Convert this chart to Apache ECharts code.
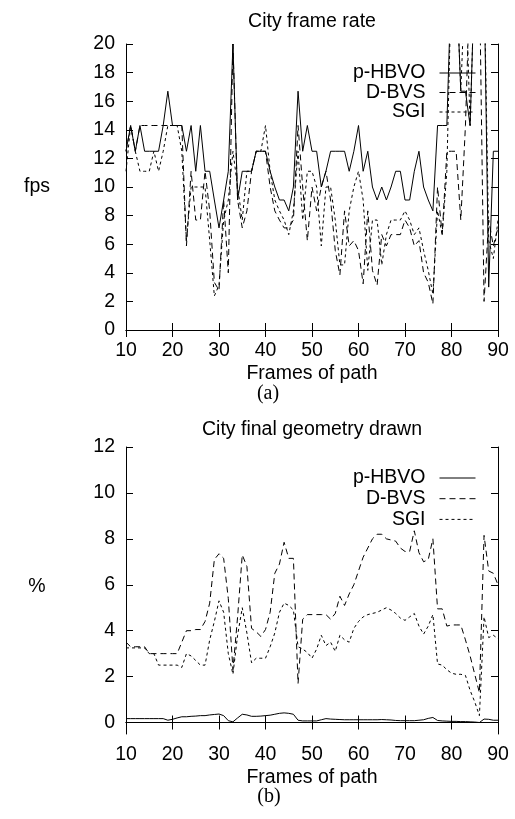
<!DOCTYPE html>
<html>
<head>
<meta charset="utf-8">
<script src="https://cdn.jsdelivr.net/npm/echarts@6/dist/echarts.min.js"></script>
<style>html,body{margin:0;padding:0;background:#fff}#c{width:515px;height:819px}</style>
</head>
<body>
<div id="c"></div>
<script>
var frames = [10,11,12,13,14,15,16,17,18,19,20,21,22,23,24,25,26,27,28,29,30,31,32,33,34,35,36,37,38,39,40,41,42,43,44,45,46,47,48,49,50,51,52,53,54,55,56,57,58,59,60,61,62,63,64,65,66,67,68,69,70,71,72,73,74,75,76,77,78,79,80,81,82,83,84,85,86,87,88,89,90];
var seriesNames = ['p-HBVO','D-BVS','SGI'];

// (a) frame rate, fps
var fpsHBVO = [12.5,14.3,12.5,14.3,12.5,12.5,12.5,12.5,14.3,16.7,14.3,14.3,14.3,12.5,14.3,11.1,14.3,11.1,11.1,9.09,7.14,9.09,11.1,20,9.09,11.1,11.1,11.1,12.5,12.5,12.5,11.1,10,9.09,9.09,8.33,10,16.7,12.5,14.3,12.5,12.5,10,11.1,12.5,12.5,12.5,12.5,11.1,12.5,14.3,11.1,12.5,10,9.09,10,9.09,10,11.1,11.1,9.09,9.09,11.1,12.5,10,9.09,8.33,14.3,14.3,14.3,25,25,16.7,16.7,14.3,25,25,25,3.0,12.5,12.5];
var fpsDBVS = [12.5,14.3,12.5,14.3,14.3,14.3,14.3,14.3,14.3,14.3,14.3,14.3,14.3,5.88,11.1,7.69,7.69,11.1,8.33,3.33,2.78,9.09,4.0,20,9.09,7.14,8.33,11.1,12.5,12.5,12.5,10,8.33,7.69,7.14,7.14,7.69,14.3,10,6.25,10,8.33,10,11.1,9.09,5.56,3.85,8.33,5.88,6.25,5.56,3.23,8.33,4.17,3.13,6.67,5.88,6.67,6.67,6.67,7.69,7.14,5.88,6.25,4.0,3.33,1.82,10,6.67,12.5,12.5,12.5,7.69,14.3,25,25,25,2.0,7.69,5.88,7.14];
var fpsSGI = [11.1,14.3,12.5,11.1,11.1,11.1,12.5,11.1,12.5,14.3,14.3,14.3,12.5,6.25,10,10,10,10,6.25,2.38,3.13,7.69,9.09,12.5,10,7.69,11.1,11.1,12.5,12.5,14.3,11.1,9.09,8.33,7.69,6.67,8.33,12.5,7.69,11.1,11.1,10,5.88,10,10,7.69,4.55,4.55,8.33,10,11.1,9.09,4.17,7.69,7.69,4.55,6.67,7.69,7.69,7.69,8.33,7.69,6.67,7.14,5.56,4.17,2.5,8.33,6.67,11.1,25,25,16.7,25,14.3,25,25,25,6.25,5.0,7.69];

// (b) final geometry drawn, %
var pctHBVO = [0.17,0.17,0.17,0.17,0.17,0.17,0.17,0.17,0.17,0.1,0.14,0.2,0.25,0.25,0.27,0.28,0.3,0.3,0.33,0.35,0.37,0.3,0.08,0.03,0.2,0.36,0.33,0.27,0.27,0.28,0.3,0.32,0.36,0.4,0.42,0.4,0.36,0.1,0.07,0.07,0.07,0.07,0.12,0.17,0.15,0.14,0.13,0.12,0.12,0.12,0.12,0.12,0.12,0.12,0.12,0.13,0.12,0.11,0.09,0.08,0.08,0.08,0.08,0.1,0.12,0.18,0.22,0.09,0.07,0.06,0.05,0.05,0.04,0.04,0.03,0.02,0.0,0.15,0.14,0.1,0.1];
var pctDBVS = [3.5,3.3,3.3,3.3,3.3,3.0,3.0,3.0,3.0,3.0,3.0,3.0,3.5,4.0,4.0,4.05,4.05,4.4,5.2,7.1,7.35,7.15,5.4,2.3,4.6,7.3,6.8,4.1,3.95,3.75,4.05,4.8,6.5,6.9,7.85,7.15,7.15,1.7,4.5,4.7,4.7,4.7,4.7,4.7,4.5,4.75,5.5,5.1,5.6,6.0,6.6,7.2,7.6,8.0,8.2,8.2,8.0,7.95,7.9,7.6,7.45,7.45,8.35,7.4,7.0,7.1,8.0,4.95,4.95,4.2,4.25,4.25,4.25,3.6,2.9,2.1,1.3,8.15,6.6,6.5,6.0];
var pctSGI = [3.25,3.25,3.25,3.25,3.25,3.0,3.0,2.5,2.5,2.5,2.5,2.5,2.4,3.0,2.9,2.7,2.5,2.5,3.6,4.4,5.3,4.8,3.0,2.1,3.8,5.0,3.9,2.6,2.8,2.8,2.8,3.3,3.9,4.8,5.2,5.1,4.9,3.3,3.2,3.05,2.8,3.2,3.8,3.35,3.5,3.1,3.8,3.6,3.5,4.1,4.4,4.6,4.7,4.75,4.8,4.9,5.0,4.9,4.75,4.55,4.45,4.6,4.75,4.2,3.85,4.2,4.7,2.55,2.5,2.3,2.15,2.1,2.1,2.05,1.4,0.9,0.3,4.6,3.7,3.8,3.65];

var xTicks = [10,20,30,40,50,60,70,80,90];
var fpsTicks = [0,2,4,6,8,10,12,14,16,18,20];
var pctTicks = [0,2,4,6,8,10,12];

var FONT = '"Liberation Sans", Arial, sans-serif';
var FS = 19.5;
var dashes = [null, [6,4], [3,3]];

function pairs(vals){ return frames.map(function(f,i){ return [f, vals[i]]; }); }

function xAx(grid, pos, name, gap){
  return {
    type:'value', gridIndex:grid, position:pos, min:10, max:90, interval:10,
    axisLine:{show:true, lineStyle:{color:'#000', width:1}},
    axisTick:{show:true, inside:true, length:7, lineStyle:{color:'#000'}},
    axisLabel:{show:pos==='bottom', margin:11, color:'#000', fontSize:FS, fontFamily:FONT},
    splitLine:{show:false},
    name:name, nameLocation:'middle', nameGap:gap,
    nameTextStyle:{color:'#000', fontSize:FS, fontFamily:FONT}
  };
}
function yAx(grid, pos, min, max, ticks, interval){
  var a = {
    type:'value', gridIndex:grid, position:pos, min:min, max:max,
    axisLine:{show:true, lineStyle:{color:'#000', width:1}},
    axisTick:{show:true, inside:true, length:7, lineStyle:{color:'#000'}},
    axisLabel:{show:pos==='left', margin:11, color:'#000', fontSize:FS, fontFamily:FONT},
    splitLine:{show:false}
  };
  if (interval) { a.interval = interval; }
  else { a.axisLabel.customValues = ticks; a.axisTick.customValues = ticks; }
  return a;
}

var vals = [[fpsHBVO, fpsDBVS, fpsSGI],[pctHBVO, pctDBVS, pctSGI]];
var series = [];
for (var g=0; g<2; g++){
  for (var s=0; s<3; s++){
    var ser = {
      type:'line', name:seriesNames[s], xAxisIndex:g*2, yAxisIndex:g*2,
      data:pairs(vals[g][s]), symbol:'none', showSymbol:false, clip:true,
      lineStyle:{color:'#000', width:1, type: dashes[s] || 'solid'},
      itemStyle:{color:'#000'}, silent:true
    };
    if (g===1 && s===0){
      ser.markLine = {silent:true, symbol:'none', label:{show:false},
        lineStyle:{color:'#000', width:1, type:[1,3]}, data:[{yAxis:0}]};
    }
    series.push(ser);
  }
}

function legend(top, gap){
  return {
    data:seriesNames, orient:'vertical', align:'right', right:39, top:top, padding:0,
    itemGap:gap, itemWidth:36, itemHeight:14, selectedMode:false,
    itemStyle:{opacity:0}, lineStyle:{width:1, color:'#000'},
    textStyle:{color:'#000', fontSize:FS, fontFamily:FONT, padding:[0,9,0,0]}
  };
}

var chart = echarts.init(document.getElementById('c'), null, {renderer:'canvas'});
chart.setOption({
  animation:false,
  backgroundColor:'#fff',
  color:['#000','#000','#000'],
  grid:[
    {left:126, right:17, top:44, height:286},
    {left:126, right:17, top:447, height:287}
  ],
  xAxis:[
    xAx(0,'bottom','Frames of path',34),
    xAx(0,'top','City frame rate',12),
    xAx(1,'bottom','Frames of path',34),
    xAx(1,'top','City final geometry drawn',7)
  ],
  yAxis:[
    yAx(0,'left',0,20,fpsTicks,2),
    yAx(0,'right',0,20,fpsTicks,2),
    yAx(1,'left',-0.5,12,pctTicks),
    yAx(1,'right',-0.5,12,pctTicks)
  ],
  legend:[legend(63,-0.5), legend(468,0.7)],
  graphic:[
    {type:'text', x:37, y:187, style:{text:'fps', align:'center', verticalAlign:'middle', fontSize:FS, fontFamily:FONT, fill:'#000'}},
    {type:'text', x:37, y:587, style:{text:'%', align:'center', verticalAlign:'middle', fontSize:FS, fontFamily:FONT, fill:'#000'}},
    {type:'text', x:268, y:394, style:{text:'(a)', align:'center', verticalAlign:'middle', fontSize:20, fontFamily:'"Liberation Serif", "Times New Roman", serif', fill:'#000'}},
    {type:'text', x:269, y:797, style:{text:'(b)', align:'center', verticalAlign:'middle', fontSize:20, fontFamily:'"Liberation Serif", "Times New Roman", serif', fill:'#000'}}
  ],
  series:series
});
</script>
</body>
</html>
